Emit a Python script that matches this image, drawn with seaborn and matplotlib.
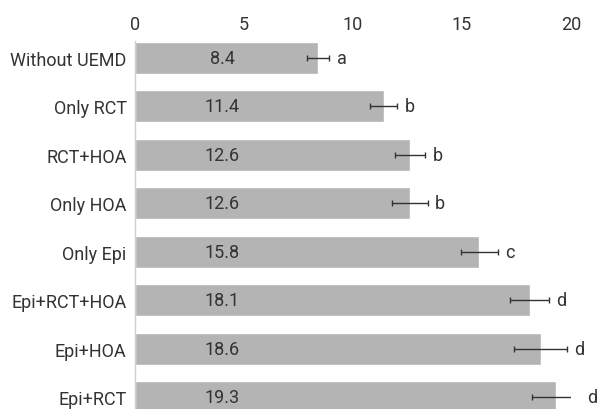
import matplotlib
matplotlib.use("Agg")
import matplotlib.pyplot as plt
import seaborn as sns
import pandas as pd

sns.set_theme(style="white")
plt.rcParams['font.family'] = ['Roboto', 'DejaVu Sans']

# data
groups = ["Without UEMD", "Only RCT", "RCT+HOA", "Only HOA",
          "Only Epi", "Epi+RCT+HOA", "Epi+HOA", "Epi+RCT"]
means = [8.4, 11.4, 12.6, 12.6, 15.8, 18.1, 18.6, 19.3]
errors = [0.5, 0.63, 0.69, 0.82, 0.83, 0.88, 1.2, 1.1]
letters = ["a", "b", "b", "b", "c", "d", "d", "d"]
xticks = [0, 5, 10, 15, 20]

df = pd.DataFrame({"group": groups, "mean": means})

fig = plt.figure(figsize=(5.99, 4.10), dpi=100)
ax = fig.add_axes([0.2254, 0.0, 0.7279, 0.8976])

sns.barplot(data=df, x="mean", y="group", color="#b4b4b4", saturation=1,
            width=0.66, errorbar=None, ax=ax)
ax.errorbar(means, range(len(groups)), xerr=errors, fmt="none",
            ecolor="#333333", elinewidth=1.0, capsize=2, capthick=1.0)

txt = "#333333"
for i, (m, e, lab) in enumerate(zip(means, errors, letters)):
    ax.text(4.0, i, f"{m}", ha="center", va="center", fontsize=13, color=txt)
    ax.text(m + e + 0.35, i, lab, ha="left", va="center", fontsize=13,
            color=txt, clip_on=False)

ax.set_xlim(0, 20)
ax.set_ylim(7.24, -0.35)
ax.set_xticks(xticks)
ax.xaxis.tick_top()
ax.tick_params(axis="x", length=0, pad=6, labelsize=13, labelcolor=txt)
ax.tick_params(axis="y", length=0, pad=6, labelsize=13, labelcolor=txt)
ax.set_xlabel("")
ax.set_ylabel("")
for s in ["top", "right", "bottom"]:
    ax.spines[s].set_visible(False)
ax.spines["left"].set_color("#d0d0d0")
ax.spines["left"].set_linewidth(1)

fig.savefig("out.png", dpi=100)
